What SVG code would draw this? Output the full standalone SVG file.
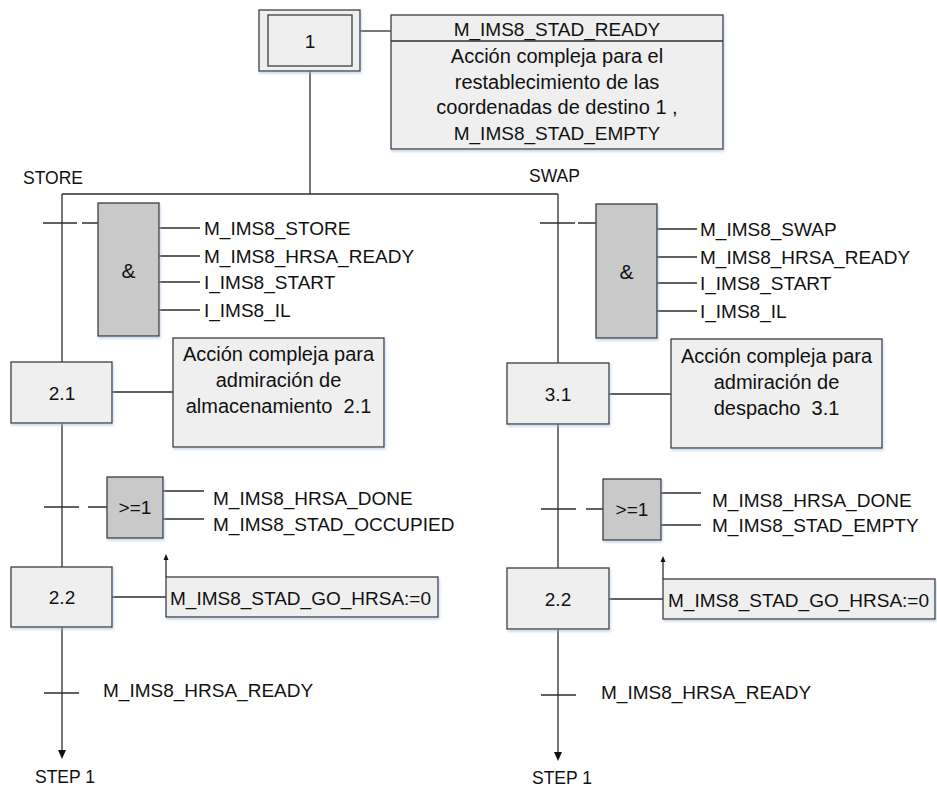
<svg xmlns="http://www.w3.org/2000/svg" width="937" height="789" viewBox="0 0 937 789">
<defs>
<style>
text{font-family:"Liberation Sans",Arial,sans-serif;font-size:19px;fill:#111}
.sm{font-size:17.5px}
.ml{font-size:20px}
.amp{font-size:21px}
.c{text-anchor:middle}
.step{fill:#efefef;stroke:#3c3c3c;stroke-width:1.3}
.act{fill:#efefef;stroke:#3c3c3c;stroke-width:1.3}
.gate{fill:#c9c9c9;stroke:#3c3c3c;stroke-width:1.3}
.ln{stroke:#2e2e2e;stroke-width:1.3;fill:none}
.ah{fill:#111}
</style>
<filter id="sh" x="-10%" y="-10%" width="125%" height="130%">
<feDropShadow dx="1" dy="2" stdDeviation="1.2" flood-color="#9fb9dd" flood-opacity="0.55"/>
</filter>
</defs>
<rect width="937" height="789" fill="#fff"/>

<g id="connectors">
<path class="ln" d="M310 71V194M62 194H558M62 194V752M558 194V754"/>
<path class="ln" d="M360 31H391"/>
<path class="ln" d="M43 223H77M82 223H98M540 223H575M578 223H596"/>
<path class="ln" d="M159 228H200M159 256H200M159 282H200M159 310H200"/>
<path class="ln" d="M657 229H697M657 257H697M657 283H697M657 311H697"/>
<path class="ln" d="M112 392H173M609 394H671"/>
<path class="ln" d="M44 507H79M88 507H107M541 509H576M586 509H603"/>
<path class="ln" d="M163 491H204M163 519H204M661 493H701M661 525H701"/>
<path class="ln" d="M112 597H166M609 599H663"/>
<path class="ln" d="M166 577V559M663 579V561"/>
<path class="ah" d="M163.5 560L166 554L168.5 560Z M660.5 562L663 556L665.5 562Z"/>
<path class="ln" d="M44 693H79M541 695H576"/>
<path class="ah" d="M58 750L66 750L62 759Z M554 752L562 752L558 761Z"/>
</g>

<g id="step1">
<rect class="step" x="259" y="10" width="101" height="61" filter="url(#sh)"/>
<rect class="step" x="268" y="15" width="84" height="51"/>
<text class="c" x="310" y="48">1</text>
</g>

<g id="action1">
<rect class="act" x="391" y="15" width="332" height="134" filter="url(#sh)"/>
<path class="ln" d="M391 41H723"/>
<text class="c" x="557" y="36">M_IMS8_STAD_READY</text>
<text class="c ml" x="557" y="63">Acción compleja para el</text>
<text class="c ml" x="557" y="88.5">restablecimiento de las</text>
<text class="c ml" x="557" y="114">coordenadas de destino 1 ,</text>
<text class="c" x="557" y="139.5">M_IMS8_STAD_EMPTY</text>
</g>

<g id="label-store"><text class="sm" x="23" y="184">STORE</text></g>
<g id="label-swap"><text class="sm" x="529" y="182">SWAP</text></g>

<g id="and-store">
<rect class="gate" x="98" y="203" width="61" height="133" filter="url(#sh)"/>
<text class="c amp" x="128.5" y="278">&amp;</text>
<text x="204" y="235">M_IMS8_STORE</text>
<text x="204" y="263">M_IMS8_HRSA_READY</text>
<text x="204" y="289">I_IMS8_START</text>
<text x="204" y="317">I_IMS8_IL</text>
</g>

<g id="and-swap">
<rect class="gate" x="596" y="204" width="61" height="134" filter="url(#sh)"/>
<text class="c amp" x="626.5" y="279">&amp;</text>
<text x="700" y="236">M_IMS8_SWAP</text>
<text x="700" y="264">M_IMS8_HRSA_READY</text>
<text x="700" y="290">I_IMS8_START</text>
<text x="700" y="318">I_IMS8_IL</text>
</g>

<g id="step21">
<rect class="step" x="11" y="362" width="101" height="61" filter="url(#sh)"/>
<text class="c" x="62" y="400">2.1</text>
</g>
<g id="action21">
<rect class="act" x="173" y="338" width="211" height="109" filter="url(#sh)"/>
<text class="c ml" x="278.5" y="361">Acción compleja para</text>
<text class="c ml" x="278.5" y="387">admiración de</text>
<text class="c ml" x="278.5" y="413">almacenamiento&#160; 2.1</text>
</g>

<g id="step31">
<rect class="step" x="507" y="363" width="102" height="61" filter="url(#sh)"/>
<text class="c" x="558" y="401">3.1</text>
</g>
<g id="action31">
<rect class="act" x="671" y="339" width="211" height="109" filter="url(#sh)"/>
<text class="c ml" x="776.5" y="363">Acción compleja para</text>
<text class="c ml" x="776.5" y="389">admiración de</text>
<text class="c ml" x="776.5" y="415">despacho&#160; 3.1</text>
</g>

<g id="or-store">
<rect class="gate" x="107" y="477" width="56" height="61" filter="url(#sh)"/>
<text class="c" x="135" y="514">&gt;=1</text>
<text x="213" y="505">M_IMS8_HRSA_DONE</text>
<text x="213" y="531">M_IMS8_STAD_OCCUPIED</text>
</g>

<g id="or-swap">
<rect class="gate" x="603" y="479" width="58" height="61" filter="url(#sh)"/>
<text class="c" x="632" y="516">&gt;=1</text>
<text x="712" y="507">M_IMS8_HRSA_DONE</text>
<text x="712" y="532">M_IMS8_STAD_EMPTY</text>
</g>

<g id="step22-left">
<rect class="step" x="11" y="567" width="101" height="60" filter="url(#sh)"/>
<text class="c" x="62" y="604">2.2</text>
</g>
<g id="action22-left">
<rect class="act" x="166" y="577" width="272" height="40" filter="url(#sh)"/>
<text x="170" y="605">M_IMS8_STAD_GO_HRSA:=0</text>
</g>

<g id="step22-right">
<rect class="step" x="507" y="568" width="102" height="61" filter="url(#sh)"/>
<text class="c" x="558" y="606">2.2</text>
</g>
<g id="action22-right">
<rect class="act" x="663" y="579" width="272" height="40" filter="url(#sh)"/>
<text x="668" y="607">M_IMS8_STAD_GO_HRSA:=0</text>
</g>

<g id="trans-left"><text x="103" y="697">M_IMS8_HRSA_READY</text></g>
<g id="trans-right"><text x="601" y="699">M_IMS8_HRSA_READY</text></g>

<g id="end-left"><text class="sm" x="35" y="783">STEP 1</text></g>
<g id="end-right"><text class="sm" x="532" y="784">STEP 1</text></g>
</svg>
